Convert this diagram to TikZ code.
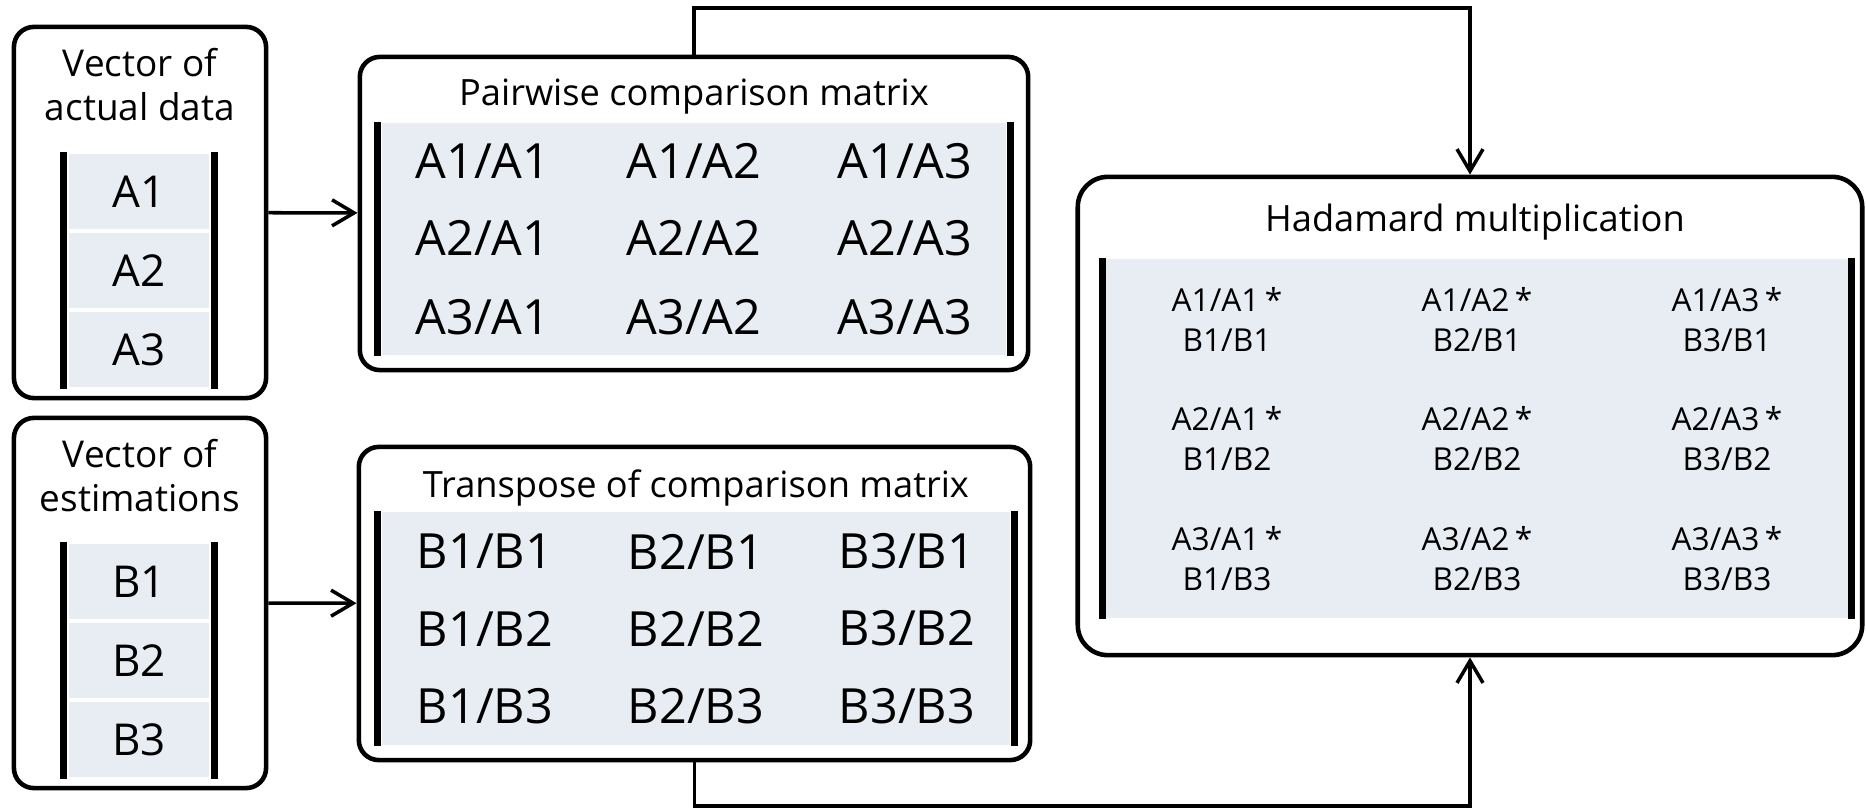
\documentclass[tikz,border=0pt]{standalone}
\usepackage{fontspec}
\setmainfont{Open Sans}
\usetikzlibrary{arrows.meta, positioning, calc}
\definecolor{CellGrey}{HTML}{E8ECF3}

\begin{document}
\begin{tikzpicture}[x=0.01cm, y=-0.01cm,
    outerbox/.style={draw, line width=1.3pt, rounded corners=2mm, inner sep=0pt},
    vecttl/.style={align=center, font=\fontsize{10.5}{12.5}\selectfont},
    matttl/.style={font=\fontsize{10.3}{12}\selectfont},
    vcell/.style={fill=CellGrey, draw=white, line width=0.6pt, minimum width=14.2mm,
        minimum height=7.7mm, inner sep=0pt, font=\fontsize{12.5}{14}\selectfont},
    matfill/.style={fill=CellGrey, inner sep=0pt},
    mcell/.style={font=\fontsize{13.8}{15}\selectfont, inner sep=0pt},
    hcell/.style={align=center, font=\fontsize{9}{11.4}\selectfont, inner sep=0pt},
    bar/.style={line width=2pt},
    conn/.style={line width=1pt, -{Straight Barb[length=2.2mm, width=2.6mm]}}
]
\useasboundingbox (0,0) rectangle (1866,809);

% =============================================
% LEFT: input vectors
% =============================================
\node[outerbox, minimum width=25.2mm, minimum height=37.1mm] (actbox) at (140,212.5) {};
\node[vecttl] (actttl) at (140,85) {Vector of\\actual data};
\node[vcell] (act1) at (139,191.5) {A1};
\node[vcell, below=0pt of act1] (act2) {A2};
\node[vcell, below=0pt of act2] (act3) {A3};
\draw[bar] ([xshift=-0.35mm]act1.north west) -- ([xshift=-0.35mm]act3.south west);
\draw[bar] ([xshift=0.35mm]act1.north east) -- ([xshift=0.35mm]act3.south east);

\node[outerbox, minimum width=25.2mm, minimum height=37.0mm] (estbox) at (140,603) {};
\node[vecttl] (estttl) at (140,476) {Vector of\\estimations};
\node[vcell] (est1) at (139,581.5) {B1};
\node[vcell, below=0pt of est1] (est2) {B2};
\node[vcell, below=0pt of est2] (est3) {B3};
\draw[bar] ([xshift=-0.35mm]est1.north west) -- ([xshift=-0.35mm]est3.south west);
\draw[bar] ([xshift=0.35mm]est1.north east) -- ([xshift=0.35mm]est3.south east);

% =============================================
% MIDDLE: comparison matrices
% =============================================
\node[outerbox, minimum width=66.8mm, minimum height=31.3mm] (pairbox) at (694,213.5) {};
\node[matttl] (pairttl) at (694,97) {Pairwise comparison matrix};
\node[matfill, minimum width=62.4mm, minimum height=23.2mm] (pairfill) at (694,239) {};
\draw[bar] ([xshift=-0.35mm]pairfill.north west) -- ([xshift=-0.35mm]pairfill.south west);
\draw[bar] ([xshift=0.35mm]pairfill.north east) -- ([xshift=0.35mm]pairfill.south east);
\foreach \i/\dy in {1/-78,2/-1,3/78}
  \foreach \j/\dx in {1/-211,2/0,3/211}
    \node[mcell] (p\i\j) at ([shift={(\dx,\dy)}]pairfill.center) {A\i/A\j};

\node[outerbox, minimum width=67.1mm, minimum height=31.3mm] (transbox) at (694.5,603.5) {};
\node[matttl] (transttl) at (696,488) {Transpose of comparison matrix};
\node[matfill, minimum width=62.8mm, minimum height=23.3mm] (transfill) at (696,628.5) {};
\draw[bar] ([xshift=-0.35mm]transfill.north west) -- ([xshift=-0.35mm]transfill.south west);
\draw[bar] ([xshift=0.35mm]transfill.north east) -- ([xshift=0.35mm]transfill.south east);
\foreach \i/\dy in {1/-77,2/0,3/78}
  \foreach \j/\dx in {1/-211,2/0,3/211}
    \node[mcell] (t\i\j) at ([shift={(\dx,\dy)}]transfill.center) {B\j/B\i};

% =============================================
% RIGHT: Hadamard product
% =============================================
\node[outerbox, rounded corners=3mm, minimum width=78.4mm, minimum height=47.8mm] (hadbox) at (1470,416) {};
\node[matttl] (hadttl) at (1475,222) {Hadamard multiplication};
\node[matfill, minimum width=74.2mm, minimum height=35.9mm] (hadfill) at (1477,438.5) {};
\draw[bar] ([xshift=-0.3mm]hadfill.north west) -- ([xshift=-0.3mm]hadfill.south west);
\draw[bar] ([xshift=0.3mm]hadfill.north east) -- ([xshift=0.3mm]hadfill.south east);
\foreach \i/\dy in {1/-119,2/0,3/120}
  \foreach \j/\dx in {1/-250,2/0,3/250}
    \node[hcell] (h\i\j) at ([shift={(\dx,\dy)}]hadfill.center) {A\i/A\j\,*\\B\j/B\i};

% connectors
\coordinate (railtop) at (1000,8);
\coordinate (railbot) at (1000,806);
\draw[conn] (actbox) -- (pairbox);
\draw[conn] (estbox) -- (transbox);
\draw[conn] (pairbox.north) |- (railtop) -| (hadbox.north);
\draw[conn] (transbox.south) |- (railbot) -| (hadbox.south);

\end{tikzpicture}
\end{document}
